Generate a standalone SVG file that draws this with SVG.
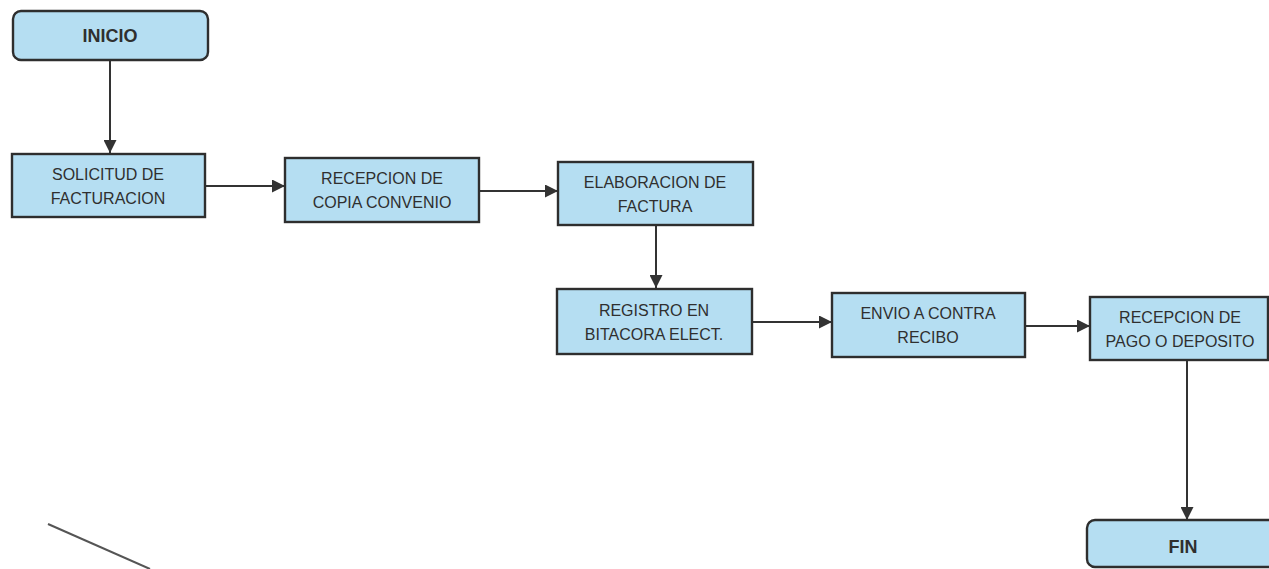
<svg xmlns="http://www.w3.org/2000/svg" width="1269" height="569" viewBox="0 0 1269 569">
<defs>
<style>
.box{fill:#b5def2;stroke:#2e2e2e;stroke-width:2.4}
.t{font-family:"Liberation Sans",Arial,sans-serif;font-size:16px;fill:#2f2f2f;text-anchor:middle}
.b{font-weight:bold;font-size:18px}
.c{stroke:#333;stroke-width:2;fill:none;marker-end:url(#ah)}
</style>
<marker id="ah" viewBox="0 0 10 10" refX="10" refY="5" markerWidth="14" markerHeight="13" markerUnits="userSpaceOnUse" orient="auto">
<path d="M0,0 L10,5 L0,10 z" fill="#333"/>
</marker>
</defs>
<rect width="1269" height="569" fill="#fff"/>
<g id="connectors">
<line class="c" x1="110" y1="60" x2="110" y2="153"/>
<line class="c" x1="205" y1="186" x2="285" y2="186"/>
<line class="c" x1="480" y1="191" x2="558" y2="191"/>
<line class="c" x1="656" y1="225" x2="656" y2="288"/>
<line class="c" x1="752" y1="322" x2="832" y2="322"/>
<line class="c" x1="1025" y1="326" x2="1090" y2="326"/>
<line class="c" x1="1187" y1="360" x2="1187" y2="520"/>
</g>
<g id="inicio">
<rect class="box" x="13" y="11" width="195" height="49" rx="8"/>
<text class="t b" x="110" y="42">INICIO</text>
</g>
<g id="solicitud">
<rect class="box" x="12" y="154" width="193" height="63"/>
<text class="t" x="108" y="180">SOLICITUD DE</text>
<text class="t" x="108" y="204">FACTURACION</text>
</g>
<g id="recepcion-copia">
<rect class="box" x="285" y="158" width="194" height="64"/>
<text class="t" x="382" y="184">RECEPCION DE</text>
<text class="t" x="382" y="208">COPIA CONVENIO</text>
</g>
<g id="elaboracion">
<rect class="box" x="558" y="162" width="195" height="63"/>
<text class="t" x="655" y="188">ELABORACION DE</text>
<text class="t" x="655" y="212">FACTURA</text>
</g>
<g id="registro">
<rect class="box" x="557" y="289" width="195" height="65"/>
<text class="t" x="654" y="316">REGISTRO EN</text>
<text class="t" x="654" y="340">BITACORA ELECT.</text>
</g>
<g id="envio">
<rect class="box" x="832" y="293" width="193" height="64"/>
<text class="t" x="928" y="319">ENVIO A CONTRA</text>
<text class="t" x="928" y="343">RECIBO</text>
</g>
<g id="recepcion-pago">
<rect class="box" x="1090" y="297" width="178" height="63"/>
<text class="t" x="1180" y="323">RECEPCION DE</text>
<text class="t" x="1180" y="347">PAGO O DEPOSITO</text>
</g>
<g id="fin">
<rect class="box" x="1087" y="520" width="190" height="47" rx="8"/>
<text class="t b" x="1183" y="553">FIN</text>
</g>
<path d="M48,524 L150,569" stroke="#555" stroke-width="2" fill="none"/>
</svg>
